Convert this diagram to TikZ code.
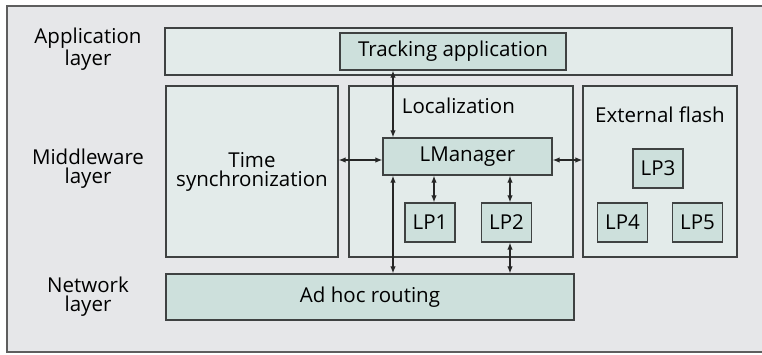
\documentclass[tikz,border=0pt]{standalone}
\usepackage{fontspec}
\setmainfont{Open Sans}
\usepackage{tikz}
\usetikzlibrary{arrows.meta, calc, positioning}

\definecolor{bggray}{HTML}{E6E7E9}
\definecolor{framegray}{HTML}{5E5E5E}
\definecolor{panel}{HTML}{E3EBEA}
\definecolor{unit}{HTML}{CDE0DC}
\definecolor{edge}{HTML}{3F4242}

\begin{document}
\begin{tikzpicture}[
        x=1pt, y=-1pt,
        font=\fontsize{20.5}{19}\selectfont,
        >={Latex[length=7pt,width=5.5pt]},
        line width=1.2pt,
        panel/.style={
            draw=edge, fill=panel,
            line width=1.3pt,
            inner sep=0pt
        },
        unit/.style={
            draw=edge, fill=unit,
            line width=1.3pt,
            inner sep=0pt,
            align=center
        },
        layer/.style={
            align=center,
            text=black
        },
        link/.style={<->, draw=black!85}
    ]

    %============================================================
    % Background and frame
    %============================================================
    \useasboundingbox (0,0) rectangle (762,354);
    \fill[bggray] (7,6) rectangle (762,352);
    \draw[framegray, line width=2pt] (762,6) -- (7,6) -- (7,352) -- (762,352);

    %============================================================
    % Layer labels
    %============================================================
    \node[layer] (LAPP) at (88,49)  {Application\\layer};
    \node[layer] (LMID) at (88,169) {Middleware\\layer};
    \node[layer] (LNET) at (88,297) {Network\\layer};

    %============================================================
    % Application layer
    %============================================================
    \node[panel, minimum width=567pt, minimum height=47pt] (APP) at (448.5,51.5) {};
    \node[unit, minimum width=226pt, minimum height=37pt] (TRACK) at (453,51.5) {Tracking application};

    %============================================================
    % Middleware layer
    %============================================================
    \node[panel, minimum width=172pt, minimum height=171pt, align=center] (SYNC) at (252,171.5)
        {Time\\synchronization};
    \node[panel, minimum width=224pt, minimum height=171pt] (LOC) at (461,171.5) {};
    \node[right] (LOCT) at (398,106) {Localization};
    \node[panel, minimum width=154pt, minimum height=171pt] (FLASH) at (660,171.5) {};
    \node (FLASHT) at (660,115) {External flash};

    % Localization internals
    \node[unit, minimum width=169pt, minimum height=37pt] (LMAN) at (467.5,156.5) {LManager};
    \node[unit, minimum width=50pt, minimum height=39pt] (LP1) at (430,222.5) {LP1};
    \node[unit, minimum width=50pt, minimum height=39pt] (LP2) at (506.5,222.5) {LP2};

    % External flash contents
    \node[unit, minimum width=50pt, minimum height=39pt] (LP3) at (658,168.5) {LP3};
    \node[unit, minimum width=50pt, minimum height=39pt] (LP4) at (622.5,222.5) {LP4};
    \node[unit, minimum width=50pt, minimum height=39pt] (LP5) at (697.5,222.5) {LP5};

    %============================================================
    % Network layer
    %============================================================
    \node[unit, minimum width=408pt, minimum height=46pt] (ROUTE) at (370,297) {Ad hoc routing};

    %============================================================
    % Connections
    %============================================================
    \coordinate (cA) at (393,0);
    \coordinate (cB) at (434,0);
    \coordinate (cC) at (510,0);
    \coordinate (cH) at (0,160);

    \draw[link] (cA |- TRACK.south) -- (cA |- LMAN.north);
    \draw[link] (cA |- LMAN.south) -- (cA |- ROUTE.north);
    \draw[link] (cB |- LMAN.south) -- (cB |- LP1.north);
    \draw[link] (cC |- LMAN.south) -- (cC |- LP2.north);
    \draw[link] (cC |- LP2.south) -- (cC |- ROUTE.north);
    \draw[link] (SYNC.east |- cH) -- (LMAN.west |- cH);
    \draw[link] (LMAN.east |- cH) -- (FLASH.west |- cH);

\end{tikzpicture}
\end{document}
